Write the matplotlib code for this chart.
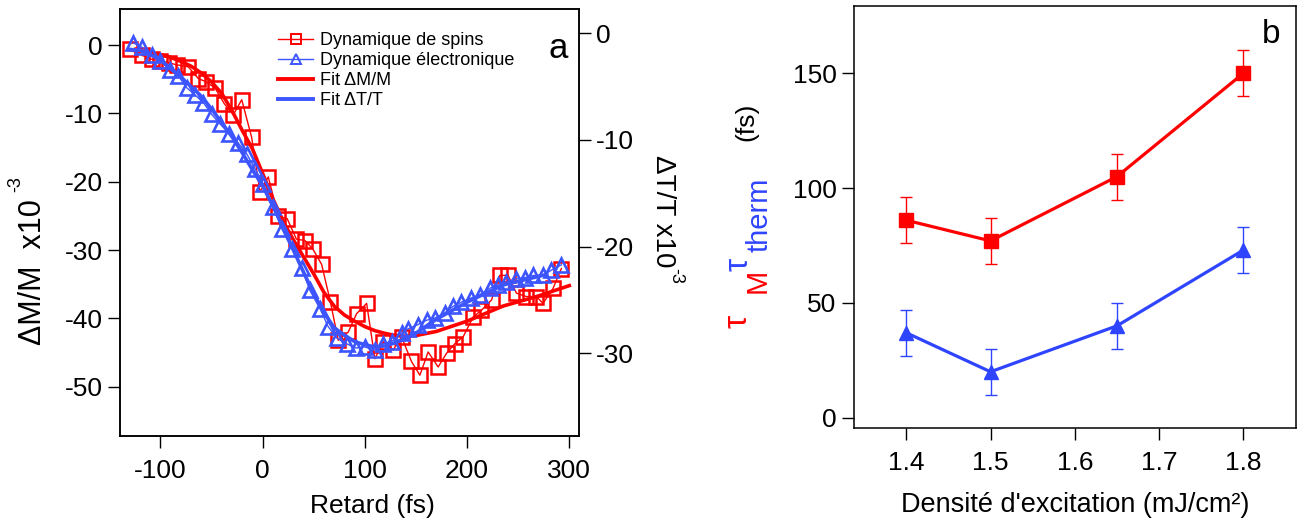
import matplotlib

matplotlib.use("Agg")
matplotlib.rcParams.update({
    "font.family": ["Liberation Sans", "DejaVu Sans"],
    "axes.unicode_minus": False,
    "axes.linewidth": 1.1,
    "xtick.major.width": 1.0,
    "ytick.major.width": 1.0,
    "xtick.major.size": 8.5,
    "ytick.major.size": 8.5,
    "xtick.direction": "out",
    "ytick.direction": "out",
    "xtick.labelsize": 19,
    "ytick.labelsize": 19,
})

import matplotlib.pyplot as plt

W, H = 1303, 523
RED = "#FF0000"
BLUE_A = "#3D55FF"
BLUE_B = "#2E44FF"

# --- panel a : spin dynamics (left axis, dM/M x1e-3) ---
spin_t = [-129.7, -118.3, -108.5, -100.4, -92.0, -84.0, -72.7, -63.0, -55.0,
          -46.6, -37.5, -28.7, -20.5, -10.8, -2.6, 5.5, 15.2, 24.0, 33.0,
          41.3, 48.9, 57.7, 66.3, 73.9, 83.7, 91.9, 101.7, 109.8, 117.9,
          127.7, 135.9, 145.6, 153.8, 161.9, 171.7, 179.9, 188.0, 196.1,
          205.9, 214.1, 223.9, 232.0, 240.1, 248.3, 258.0, 267.8, 274.3,
          284.1, 292.3]
spin_dm = [-0.6, -1.5, -2.1, -2.3, -2.6, -2.9, -3.2, -4.9, -5.4,
           -6.3, -8.6, -10.2, -8.0, -13.5, -21.5, -19.3, -25.0, -25.4, -28.4,
           -28.6, -29.8, -32.1, -37.6, -43.2, -42.0, -39.3, -37.8, -45.9,
           -43.4, -44.6, -42.7, -46.3, -48.3, -44.9, -47.1, -45.1, -43.7,
           -42.7, -39.8, -38.8, -37.3, -33.7, -33.7, -36.3, -36.8, -36.8,
           -37.8, -35.6, -32.7]

# electronic dynamics (right axis, dT/T x1e-3)
elec_t = [-126.5, -118.3, -108.5, -100.4, -90.6, -82.5, -74.3, -66.0, -58.0,
          -49.9, -41.7, -32.5, -23.8, -15.6, -7.5, 0.6, 10.4, 18.6, 28.4,
          38.2, 46.2, 56.0, 64.1, 72.9, 82.1, 91.2, 100.0, 109.8, 117.9,
          126.1, 135.9, 142.3, 152.1, 160.3, 168.4, 178.2, 186.3, 194.5,
          204.3, 212.4, 222.2, 230.3, 238.5, 248.3, 256.5, 264.7, 274.3,
          282.5, 292.3]
elec_dt = [-0.9, -1.3, -2.0, -2.6, -3.4, -4.0, -5.1, -5.8, -6.5,
           -7.6, -8.5, -9.4, -10.3, -11.3, -12.7, -14.1, -16.3, -18.3, -20.2,
           -22.0, -24.1, -25.8, -27.5, -28.6, -29.1, -29.5, -29.4, -29.7,
           -29.1, -28.9, -28.1, -27.7, -27.3, -26.9, -26.7, -26.2, -25.6,
           -25.2, -24.8, -24.5, -23.9, -23.6, -23.3, -23.0, -22.9, -22.7,
           -22.7, -22.2, -21.7]

# fits
fit_m_t = [-131, -120, -110, -100, -90, -80, -70, -60, -50, -40, -30, -20,
           -10, 0, 10, 20, 30, 40, 50, 60, 70, 80, 90, 100, 110, 120, 130,
           140, 150, 170, 200, 235, 268, 300]
fit_m = [-0.7, -0.9, -1.1, -1.4, -1.8, -2.4, -3.1, -4.1, -5.4, -7.1, -9.6,
         -12.5, -15.2, -18.8, -22.5, -25.8, -28.5, -31.0, -33.5, -36.2,
         -38.2, -39.5, -40.4, -41.2, -41.8, -42.2, -42.5, -42.6, -42.5,
         -41.9, -40.4, -38.2, -36.8, -35.2]
fit_t_t = [-131, -120, -110, -100, -90, -80, -70, -60, -50, -40, -30, -20,
           -10, 0, 10, 20, 30, 40, 50, 60, 70, 80, 90, 100, 110, 120, 130,
           140, 150, 170, 200, 235, 265, 278]
fit_t = [-1.5, -1.6, -2.0, -2.5, -3.3, -4.1, -5.0, -5.9, -7.1, -8.4, -9.7,
         -11.2, -12.8, -14.3, -16.2, -18.2, -20.3, -22.4, -24.4, -26.2,
         -27.6, -28.3, -28.9, -29.2, -29.4, -29.3, -29.0, -28.6, -28.1,
         -26.8, -25.2, -23.6, -22.9, -22.6]

# --- panel b : characteristic times ---
fluence = [1.4, 1.5, 1.65, 1.8]
tau_m = [86, 77, 105, 150]
tau_m_err = [10, 10, 10, 10]
tau_therm = [37, 20, 40, 73]
tau_therm_err = [10, 10, 10, 10]


def fx(px):
    return px / W


def fy(py):
    return 1 - py / H


fig = plt.figure(figsize=(W / 100, H / 100), dpi=100)

# ---------------- panel a ----------------
ax = fig.add_axes([fx(120), fy(436), fx(579) - fx(120), fy(9) - fy(436)])
ax2 = ax.twinx()
ax.plot(spin_t, spin_dm, color=RED, lw=1.0, marker="s", ms=9.5, mfc="none",
        mec=RED, mew=1.8, zorder=3)
ax2.plot(elec_t, elec_dt, color=BLUE_A, lw=1.0, marker="^", ms=10,
         mfc="none", mec=BLUE_A, mew=1.9, zorder=3)
ax.plot(fit_m_t, fit_m, color=RED, lw=2.6, zorder=4)
ax2.plot(fit_t_t, fit_t, color=BLUE_A, lw=2.6, zorder=4)

ax.set_xlim(-139.6, 309.5)
ax.set_ylim(-57.2, 5.27)
ax2.set_ylim(-37.75, 2.28)
ax.set_xticks([-100, 0, 100, 200, 300])
ax.set_yticks([0, -10, -20, -30, -40, -50])
ax2.set_yticks([0, -10, -20, -30])
ax.tick_params(axis="x", pad=8)
ax.tick_params(axis="y", pad=4)
ax2.tick_params(axis="y", pad=4)

handles = [
    plt.Line2D([], [], color=RED, lw=1.0, marker="s", ms=7, mfc="none",
               mew=1.4),
    plt.Line2D([], [], color=BLUE_A, lw=1.0, marker="^", ms=7, mfc="none",
               mew=1.4),
    plt.Line2D([], [], color=RED, lw=2.8),
    plt.Line2D([], [], color=BLUE_A, lw=2.8),
]
labels = ["Dynamique de spins", "Dynamique électronique",
          "Fit ΔM/M", "Fit ΔT/T"]
fig.legend(handles, labels, loc="upper left",
           bbox_to_anchor=(fx(278), fy(32)), frameon=False, fontsize=13,
           borderpad=0, borderaxespad=0, handlelength=1.95,
           handletextpad=0.4, labelspacing=0.17)

fig.text(fx(558), fy(58), "a", fontsize=25, ha="center", va="baseline")
fig.text(fx(372), fy(506), "Retard (fs)", fontsize=19, ha="center",
         va="center")

# left label with raised exponent
fig.text(fx(33), fy(272), "ΔM/M  x10", fontsize=22, rotation=90,
         ha="center", va="center")
fig.text(fx(16), fy(184), "-3", fontsize=13, rotation=90,
         ha="center", va="center")
# right label (reads downwards)
fig.text(fx(663), fy(211), "ΔT/T x10", fontsize=20, rotation=-90,
         ha="center", va="center")
fig.text(fx(676), fy(276), "-3", fontsize=13, rotation=-90,
         ha="center", va="center")

# ---------------- panel b ----------------
bx = fig.add_axes([fx(854), fy(427.7), fx(1296) - fx(854),
                   fy(6) - fy(427.7)])
bx.errorbar(fluence, tau_m, yerr=tau_m_err, color=RED, lw=2.3, marker="s",
            ms=10, elinewidth=1.0, capsize=4, capthick=1.0, zorder=3)
bx.errorbar(fluence, tau_therm, yerr=tau_therm_err, color=BLUE_B, lw=2.3,
            marker="^", ms=10, elinewidth=1.0, capsize=4, capthick=1.0,
            zorder=3)
bx.set_xlim(1.338, 1.8625)
bx.set_ylim(-4.35, 179.3)
bx.set_xticks([1.4, 1.5, 1.6, 1.7, 1.8])
bx.set_yticks([0, 50, 100, 150])
bx.tick_params(axis="x", pad=8)
bx.tick_params(axis="y", pad=4)

fig.text(fx(1271), fy(43), "b", fontsize=24, ha="center", va="baseline")
fig.text(fx(1075), fy(505), "Densité d'excitation (mJ/cm²)", fontsize=19.5,
         ha="center", va="center")

# composite coloured y label
fig.text(fx(738), fy(321), "τ", color=RED, fontsize=24, rotation=90,
         ha="center", va="center")
fig.text(fx(758), fy(281), "M", color=RED, fontsize=21, rotation=90,
         ha="center", va="center")
fig.text(fx(739), fy(264), "τ", color=BLUE_B, fontsize=24, rotation=90,
         ha="center", va="center")
fig.text(fx(759), fy(215), "therm", color=BLUE_B, fontsize=21, rotation=90,
         ha="center", va="center")
fig.text(fx(746), fy(122), "(fs)", color="black", fontsize=19, rotation=90,
         ha="center", va="center")

fig.savefig("out.png", dpi=100)
